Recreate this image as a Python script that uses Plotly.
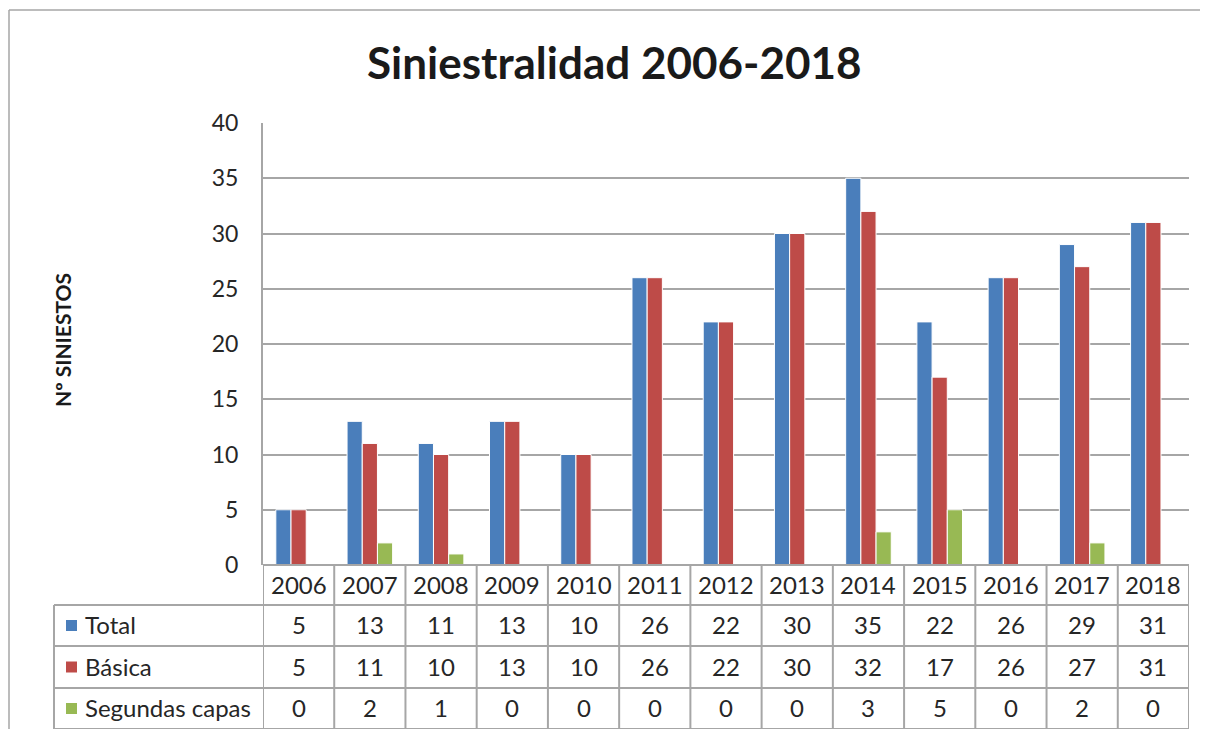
import plotly.graph_objects as go

years = ["2006", "2007", "2008", "2009", "2010", "2011", "2012", "2013",
         "2014", "2015", "2016", "2017", "2018"]
total = [5, 13, 11, 13, 10, 26, 22, 30, 35, 22, 26, 29, 31]
basica = [5, 11, 10, 13, 10, 26, 22, 30, 32, 17, 26, 27, 31]
segundas = [0, 2, 1, 0, 0, 0, 0, 0, 3, 5, 0, 2, 0]
series_names = ["Total", "Básica", "Segundas capas"]
series_colors = ["#4A7EBB", "#BE4B48", "#98B954"]
series_values = [total, basica, segundas]
title_text = "Siniestralidad 2006-2018"
y_title = "Nº SINIESTOS"
y_ticks = [0, 5, 10, 15, 20, 25, 30, 35, 40]

OFF = 8  # page body margin
W, H = 1208 - 2 * OFF, 737 - 2 * OFF
FONT = "Lato"
GRID = "#A6A6A6"
TXT = "#262626"


def px(x):
    return (x - OFF) / W


def py(y):
    return 1 - (y - OFF) / H


plot_l, plot_r, plot_t, plot_b = 263, 1189, 123, 565
row_lines = [565, 605, 646, 688, 729]
label_left = 54

fig = go.Figure()
for name, col, vals in zip(series_names, series_colors, series_values):
    fig.add_trace(go.Bar(x=years, y=vals, name=name,
                         marker=dict(color=col, line=dict(color="white", width=1)),
                         showlegend=False, hoverinfo="x+y+name"))

shapes = []
annotations = []

# outer frame (only top and left edges are visible)
shapes.append(dict(type="line", xref="paper", yref="paper",
                   x0=px(9), x1=px(1240), y0=py(10), y1=py(10),
                   line=dict(color="#A6A6A6", width=1.5), layer="below"))
shapes.append(dict(type="line", xref="paper", yref="paper",
                   x0=px(9), x1=px(9), y0=py(10), y1=py(770),
                   line=dict(color="#A6A6A6", width=1.5), layer="below"))

# table horizontal lines
shapes.append(dict(type="line", xref="paper", yref="paper",
                   x0=px(plot_l), x1=px(plot_r), y0=py(row_lines[0]), y1=py(row_lines[0]),
                   line=dict(color=GRID, width=2)))
for ry in row_lines[1:]:
    shapes.append(dict(type="line", xref="paper", yref="paper",
                       x0=px(label_left), x1=px(plot_r), y0=py(ry), y1=py(ry),
                       line=dict(color=GRID, width=2)))
# table vertical lines (category boundaries)
for i in range(len(years) + 1):
    shapes.append(dict(type="line", xref="x", yref="paper",
                       x0=i - 0.5, x1=i - 0.5, y0=py(row_lines[-1]), y1=py(row_lines[0]),
                       line=dict(color=GRID, width=2)))
shapes.append(dict(type="line", xref="paper", yref="paper",
                   x0=px(label_left), x1=px(label_left), y0=py(row_lines[-1]), y1=py(row_lines[1]),
                   line=dict(color=GRID, width=2)))

# header years
for i, yr in enumerate(years):
    annotations.append(dict(x=i, xref="x", y=py((row_lines[0] + row_lines[1]) / 2 - 1), yref="paper",
                            text=yr, showarrow=False, font=dict(family=FONT, size=24, color=TXT),
                            xanchor="center", yanchor="middle"))
# data rows
for r, (name, col, vals) in enumerate(zip(series_names, series_colors, series_values)):
    cy = (row_lines[r + 1] + row_lines[r + 2]) / 2
    for i, v in enumerate(vals):
        annotations.append(dict(x=i, xref="x", y=py(cy - 1), yref="paper",
                                text=str(v), showarrow=False,
                                font=dict(family=FONT, size=24, color=TXT),
                                xanchor="center", yanchor="middle"))
    shapes.append(dict(type="rect", xref="paper", yref="paper",
                       x0=px(66), x1=px(77), y0=py(cy + 5.5), y1=py(cy - 5.5),
                       fillcolor=col, line=dict(width=0)))
    annotations.append(dict(x=px(83), xref="paper", y=py(cy - 1), yref="paper",
                            text=name, showarrow=False,
                            font=dict(family=FONT, size=24, color=TXT),
                            xanchor="left", yanchor="middle"))

# title
annotations.append(dict(x=px(614), xref="paper", y=py(62), yref="paper",
                        text="<b>" + title_text + "</b>", showarrow=False,
                        font=dict(family=FONT, size=44, color="#1A1A1A"),
                        xanchor="center", yanchor="middle"))
# y title
annotations.append(dict(x=px(62), xref="paper", y=py(340), yref="paper",
                        text="<b>" + y_title + "</b>", showarrow=False, textangle=-90,
                        font=dict(family=FONT, size=21, color="#1A1A1A"),
                        xanchor="center", yanchor="middle"))

fig.update_layout(
    width=W, height=H,
    margin=dict(l=0, r=0, t=0, b=0),
    paper_bgcolor="white", plot_bgcolor="white",
    barmode="group", bargap=0.36, bargroupgap=0,
    xaxis=dict(type="category", domain=[px(plot_l), px(plot_r)], showticklabels=False,
               showgrid=False, showline=False, zeroline=False, automargin=False,
               categoryorder="array", categoryarray=years,
               range=[-0.5, len(years) - 0.5]),
    yaxis=dict(domain=[py(plot_b), py(plot_t)], range=[0, 40], tickvals=y_ticks,
               showgrid=True, gridcolor=GRID, gridwidth=2, zeroline=False,
               showline=True, linecolor=GRID, linewidth=2, automargin=False,
               ticks="outside", ticklen=0, ticklabelstandoff=18,
               tickfont=dict(family=FONT, size=23, color=TXT)),
    shapes=shapes, annotations=annotations,
)

fig.write_html("out.html", config={"displayModeBar": False})
